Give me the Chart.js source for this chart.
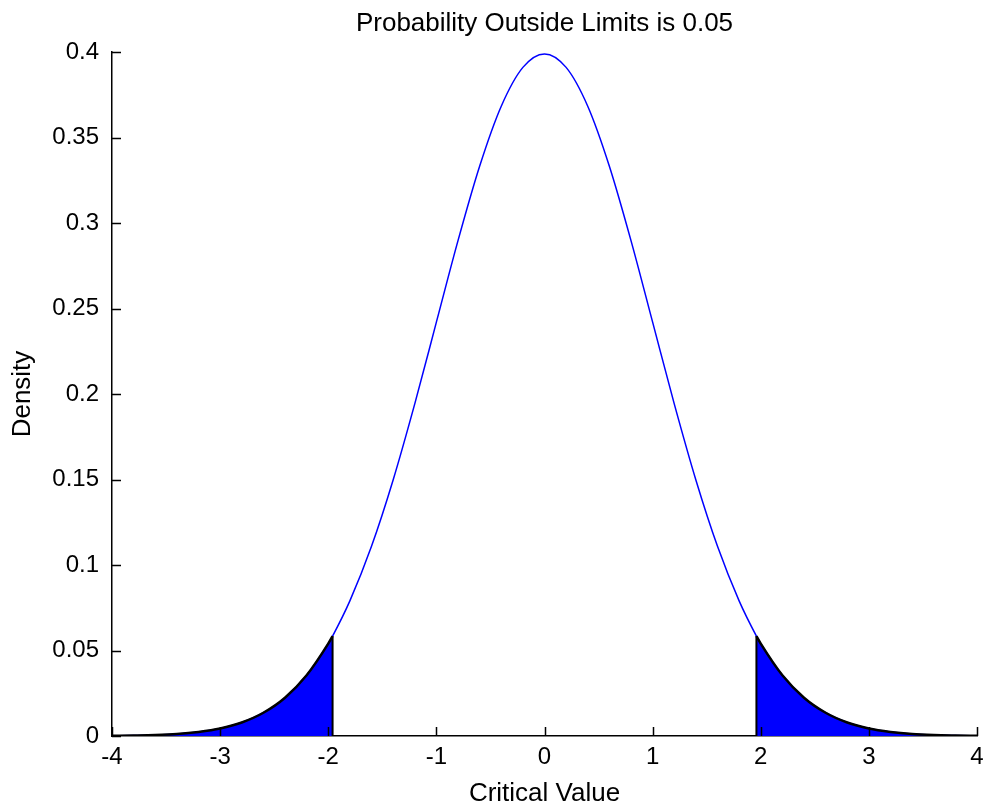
<!DOCTYPE html>
<html>
<head>
<meta charset="utf-8">
<script src="https://cdn.jsdelivr.net/npm/chart.js@4.4.1/dist/chart.umd.min.js"></script>
<style>
  html, body { margin: 0; padding: 0; background: #fff; }
  #wrap { width: 985px; height: 809px; }
</style>
</head>
<body>
<div id="wrap"><canvas id="pdfChart" width="985" height="809"></canvas></div>
<script>
// values (density of the curve)
const xValues = [-4, -3.8, -3.6, -3.4, -3.2, -3, -2.8, -2.6, -2.4, -2.2, -2, -1.96, -1.8, -1.6, -1.4, -1.2, -1, -0.8, -0.6, -0.4, -0.2, 0,
  0.2, 0.4, 0.6, 0.8, 1, 1.2, 1.4, 1.6, 1.8, 1.96, 2, 2.2, 2.4, 2.6, 2.8, 3, 3.2, 3.4, 3.6, 3.8, 4];
const density = [0.0001, 0.0003, 0.0006, 0.0012, 0.0024, 0.0044, 0.0079, 0.0136, 0.0224, 0.0355, 0.054, 0.0584, 0.079, 0.1109, 0.1497, 0.1942, 0.242, 0.2897, 0.3332, 0.3683, 0.391, 0.3989,
  0.391, 0.3683, 0.3332, 0.2897, 0.242, 0.1942, 0.1497, 0.1109, 0.079, 0.0584, 0.054, 0.0355, 0.0224, 0.0136, 0.0079, 0.0044, 0.0024, 0.0012, 0.0006, 0.0003, 0.0001];
const criticalValue = 1.96;

const xTicks = [-4, -3, -2, -1, 0, 1, 2, 3, 4];
const yTicks = [0, 0.05, 0.1, 0.15, 0.2, 0.25, 0.3, 0.35, 0.4];
const yTickLabels = ["0", "0.05", "0.1", "0.15", "0.2", "0.25", "0.3", "0.35", "0.4"];

const curve = xValues.map((x, i) => ({ x: x, y: density[i] }));
const leftTail = curve.filter(p => p.x <= -criticalValue);
const rightTail = curve.filter(p => p.x >= criticalValue);
const leftEdge = [{ x: -criticalValue, y: 0 }, curve.find(p => p.x === -criticalValue)];
const rightEdge = [{ x: criticalValue, y: 0 }, curve.find(p => p.x === criticalValue)];

const FONT = "'Liberation Sans', Arial, sans-serif";

// matlab style ticks pointing into the plot
const innerTicks = {
  id: "innerTicks",
  afterDraw(chart) {
    const ctx = chart.ctx;
    const xs = chart.scales.x, ys = chart.scales.y;
    const area = chart.chartArea;
    ctx.save();
    ctx.strokeStyle = "#000";
    ctx.lineWidth = 1.5;
    ctx.beginPath();
    xTicks.forEach(t => {
      const px = Math.round(xs.getPixelForValue(t)) + 0.5;
      ctx.moveTo(px, area.bottom);
      ctx.lineTo(px, area.bottom - 9);
    });
    yTicks.forEach(t => {
      const py = Math.round(ys.getPixelForValue(t)) + 0.5;
      ctx.moveTo(area.left, py);
      ctx.lineTo(area.left + 9, py);
    });
    ctx.stroke();
    ctx.restore();
  }
};

const tailStyle = {
  borderColor: "#000",
  borderWidth: 2.5,
  backgroundColor: "#0000ff",
  fill: "origin",
  pointRadius: 0,
  cubicInterpolationMode: "monotone"
};
const edgeStyle = { borderColor: "#000", borderWidth: 2, fill: false, pointRadius: 0 };

new Chart(document.getElementById("pdfChart"), {
  type: "line",
  data: {
    datasets: [
      Object.assign({ data: leftEdge }, edgeStyle),
      Object.assign({ data: rightEdge }, edgeStyle),
      Object.assign({ data: leftTail }, tailStyle),
      Object.assign({ data: rightTail }, tailStyle),
      {
        data: curve,
        borderColor: "#0000ff",
        borderWidth: 1.5,
        fill: false,
        pointRadius: 0,
        cubicInterpolationMode: "monotone"
      }
    ]
  },
  options: {
    responsive: false,
    animation: false,
    layout: { padding: { top: 0, right: 0, left: 0, bottom: 0 } },
    plugins: {
      legend: { display: false },
      tooltip: { enabled: false },
      title: {
        display: true,
        fullSize: false,
        text: "Probability Outside Limits is 0.05",
        color: "#000",
        font: { family: FONT, size: 26, weight: "normal" },
        padding: { top: 8, bottom: 12.8 }
      }
    },
    scales: {
      x: {
        type: "linear",
        min: -4,
        max: 4,
        afterBuildTicks: s => { s.ticks = xTicks.map(v => ({ value: v })); },
        afterFit: s => { s.height = 73; s.paddingRight = 8; s.paddingLeft = 0; },
        grid: { display: false, drawTicks: false },
        border: { display: true, color: "#000", width: 1.5 },
        ticks: { color: "#000", padding: 7, maxRotation: 0, font: { family: FONT, size: 24 } },
        title: {
          display: true,
          text: "Critical Value",
          color: "#000",
          font: { family: FONT, size: 26 },
          padding: { top: 0, bottom: 0 }
        }
      },
      y: {
        min: 0,
        max: 0.4,
        afterBuildTicks: s => { s.ticks = yTicks.map(v => ({ value: v })); },
        afterFit: s => { s.width = 112; },
        grid: { display: false, drawTicks: false },
        border: { display: true, color: "#000", width: 1.5 },
        ticks: {
          color: "#000",
          padding: 13,
          font: { family: FONT, size: 24 },
          callback: (v, i) => yTickLabels[i]
        },
        title: {
          display: true,
          text: "Density",
          color: "#000",
          font: { family: FONT, size: 26 },
          padding: { top: 7, bottom: 0 }
        }
      }
    }
  },
  plugins: [innerTicks]
});
</script>
</body>
</html>
